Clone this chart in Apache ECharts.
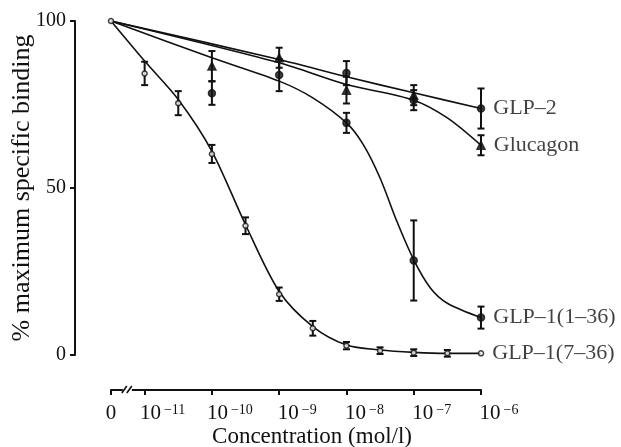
<!DOCTYPE html>
<html lang="en">
<head>
<meta charset="UTF-8">
<title>Binding curves</title>
<script src="https://cdn.jsdelivr.net/npm/echarts@6/dist/echarts.min.js"></script>
<style>
  html, body { margin: 0; background: #fff; }
  #main { width: 621px; height: 447px; }
</style>
</head>
<body>
<div id="main"></div>
<script>
// measured points (concentration in mol/l, % max specific binding, error)
var glp736Conc = [0, 1e-11, 3.16e-11, 1e-10, 3.16e-10, 1e-9, 3.16e-9, 1e-8, 3.16e-8, 1e-7, 3.16e-7, 1e-6];
var glp736Mean = [100, 84.3, 75.4, 60.2, 38.7, 18.2, 8.0, 2.8, 1.3, 0.7, 0.5, 0.5];
var glp736Err  = [0, 3.5, 3.6, 2.7, 2.5, 2.0, 2.2, 1.1, 1.0, 1.0, 1.0, 0];

var glp136Conc = [1e-10, 1e-9, 1e-8, 1e-7, 1e-6];
var glp136Mean = [78.4, 83.8, 69.5, 28.3, 11.2];
var glp136Err  = [3.5, 4.8, 3.0, 12, 3.3];

var glucConc = [1e-10, 1e-9, 1e-8, 1e-7, 1e-6];
var glucMean = [86.5, 89.0, 79.3, 77.8, 62.8];
var glucErr  = [4.5, 3.0, 4.0, 3.0, 3.0];

var glp2Conc = [1e-8, 1e-7, 1e-6];
var glp2Mean = [84.4, 76.3, 73.8];
var glp2Err  = [3.6, 3.0, 6.0];

// fitted curves
var fit736Conc = [0, 1e-11, 3.16e-11, 1e-10, 3.16e-10, 1e-9, 3.16e-9, 1e-8, 3.16e-8, 1e-7, 3.16e-7, 1e-6];
var fit736Val  = [100, 88, 76.5, 61, 39, 19, 8.5, 3, 1.5, 0.8, 0.5, 0.5];
var fit136Conc = [0, 1e-10, 1e-9, 3.16e-9, 1e-8, 1.78e-8, 3.16e-8, 5.62e-8, 1e-7, 1.78e-7, 3.16e-7, 1e-6];
var fit136Val  = [100, 89, 82, 77, 69.5, 63, 53, 40, 28.5, 20, 15.5, 11.2];
var fitGlp2Conc = [0, 1e-9, 1e-8, 1e-7, 1e-6];
var fitGlp2Val  = [100, 88.5, 83.3, 78.5, 73.8];
var fitGlucConc = [0, 1e-9, 1e-8, 1e-7, 3.16e-7, 1e-6];
var fitGlucVal  = [100, 87.5, 81, 76.3, 71, 62.8];

var xTicks = [0, 1e-11, 1e-10, 1e-9, 1e-8, 1e-7, 1e-6];
var yTicks = [0, 50, 100];

var ZERO_AT = -11.5;   // place of "0" on the broken log axis
var INK = '#111';
var FONT = 'Liberation Serif';

function pos(c) { return c === 0 ? ZERO_AT : Math.log10(c); }

function pairs(conc, vals) {
    var out = [];
    for (var i = 0; i < conc.length; i++) out.push([pos(conc[i]), vals[i]]);
    return out;
}

function curve(conc, vals) {
    return {
        type: 'line', data: pairs(conc, vals), smooth: 0.3,
        showSymbol: false, silent: true, z: 1,
        lineStyle: { color: INK, width: 1.6 }
    };
}

function points(conc, vals, name, symbol, size, fill) {
    var d = pairs(conc, vals).map(function (p, i) {
        if (i !== conc.length - 1) return p;
        return { value: p, label: { show: true, formatter: name } };
    });
    return {
        type: 'scatter', data: d, symbol: symbol, symbolSize: size, z: 4,
        itemStyle: { color: fill, borderColor: INK, borderWidth: 1.5 },
        label: { show: false, position: 'right', distance: 8, color: INK, fontFamily: FONT, fontSize: 22 }
    };
}

function errBars(conc, mean, err) {
    var d = [];
    for (var i = 0; i < conc.length; i++) {
        if (err[i] > 0) d.push([pos(conc[i]), mean[i] - err[i], mean[i] + err[i]]);
    }
    return {
        type: 'custom', data: d, z: 3, silent: true,
        encode: { x: 0, y: [1, 2] },
        renderItem: function (params, api) {
            var lo = api.coord([api.value(0), api.value(1)]);
            var hi = api.coord([api.value(0), api.value(2)]);
            var w = 3.5, st = { stroke: INK, lineWidth: 2 };
            return {
                type: 'group', children: [
                    { type: 'line', shape: { x1: lo[0], y1: lo[1], x2: hi[0], y2: hi[1] }, style: st },
                    { type: 'line', shape: { x1: lo[0] - w, y1: lo[1], x2: lo[0] + w, y2: lo[1] }, style: st },
                    { type: 'line', shape: { x1: hi[0] - w, y1: hi[1], x2: hi[0] + w, y2: hi[1] }, style: st }
                ]
            };
        }
    };
}

var chart = echarts.init(document.getElementById('main'));

var option = {
    animation: false,
    backgroundColor: '#fff',
    grid: { left: 111, right: 140, top: 21, bottom: 92, outerBoundsMode: 'none', containLabel: false },
    xAxis: {
        type: 'value', min: ZERO_AT, max: -6, offset: 35,
        splitLine: { show: false },
        axisLine: { onZero: false, lineStyle: { color: INK, width: 2 } },
        axisTick: { length: 5, lineStyle: { color: INK, width: 2 }, customValues: xTicks.map(pos) },
        axisLabel: {
            customValues: xTicks.map(pos), margin: 13, color: INK, fontFamily: FONT, fontSize: 21,
            formatter: function (v) {
                if (v === ZERO_AT) return '0';
                return '{pad|}{b|10}{s|\u2212' + Math.round(-v) + '}';
            },
            rich: {
                pad: { width: 36 },
                b: { fontFamily: FONT, fontSize: 21, color: INK },
                s: { fontFamily: FONT, fontSize: 14, color: INK, verticalAlign: 'top', padding: [0, 0, 0, 3] }
            }
        },
        name: 'Concentration (mol/l)', nameLocation: 'middle', nameGap: 35, nameMoveOverlap: false,
        nameTextStyle: { color: INK, fontFamily: FONT, fontSize: 23, padding: [0, 0, 0, 32] }
    },
    yAxis: {
        type: 'value', min: 0, max: 100, interval: 50, offset: 36,
        splitLine: { show: false },
        axisLine: { show: true, onZero: false, lineStyle: { color: INK, width: 2 } },
        axisTick: { show: true, length: 5, lineStyle: { color: INK, width: 2 } },
        axisLabel: { margin: 9, color: INK, fontFamily: FONT, fontSize: 20,
            formatter: function (v) { return yTicks.indexOf(v) >= 0 ? String(v) : ''; } },
        name: '% maximum specific binding', nameLocation: 'middle', nameGap: 40, nameRotate: 90,
        nameMoveOverlap: false,
        nameTextStyle: { color: INK, fontFamily: FONT, fontSize: 26 }
    },
    series: [
        curve(fit736Conc, fit736Val),
        curve(fit136Conc, fit136Val),
        curve(fitGlp2Conc, fitGlp2Val),
        curve(fitGlucConc, fitGlucVal),
        errBars(glp736Conc, glp736Mean, glp736Err),
        errBars(glp136Conc, glp136Mean, glp136Err),
        errBars(glucConc, glucMean, glucErr),
        errBars(glp2Conc, glp2Mean, glp2Err),
        points(glp736Conc, glp736Mean, 'GLP\u20131(7\u201336)', 'circle', 5, '#fff'),
        points(glp136Conc, glp136Mean, 'GLP\u20131(1\u201336)', 'circle', 7, INK),
        points(glucConc, glucMean, 'Glucagon', 'triangle', 8, INK),
        points(glp2Conc, glp2Mean, 'GLP\u20132', 'circle', 7, INK)
    ]
};
chart.setOption(option);

// axis break mark between 0 and 10^-11
var bx = chart.convertToPixel({ xAxisIndex: 0 }, -11.25);
var by = chart.convertToPixel({ yAxisIndex: 0 }, 0) + 35;
chart.setOption({
    graphic: [
        { type: 'rect', shape: { x: bx - 5, y: by - 3, width: 9, height: 6 }, style: { fill: '#fff' }, z: 100 },
        { type: 'line', shape: { x1: bx - 6, y1: by + 3, x2: bx - 1, y2: by - 4 }, style: { stroke: INK, lineWidth: 1.6 }, z: 101 },
        { type: 'line', shape: { x1: bx - 1, y1: by + 3, x2: bx + 4, y2: by - 4 }, style: { stroke: INK, lineWidth: 1.6 }, z: 101 }
    ]
});
</script>
</body>
</html>
